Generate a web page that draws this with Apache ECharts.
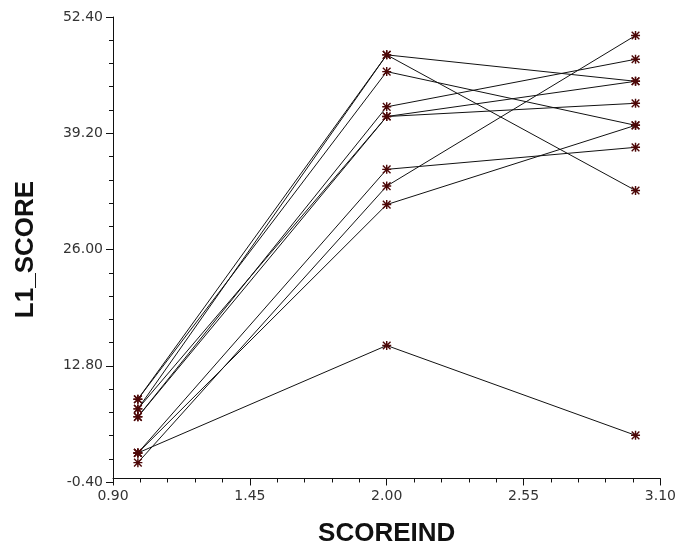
<!DOCTYPE html>
<html>
<head>
<meta charset="utf-8">
<style>
html,body{margin:0;padding:0;background:#fff;}
#chart{width:679px;height:552px;}
</style>
<script src="https://cdn.jsdelivr.net/npm/echarts@6/dist/echarts.min.js"></script>
</head>
<body>
<div id="chart"></div>
<script>
// SCOREIND levels
const scoreInd = [1, 2, 3];
// L1_SCORE per subject at SCOREIND = 1, 2, 3
const scoreAt1 = [9.0, 7.9, 9.0, 7.0, 7.9, 7.0, 2.9, 1.8, 2.9, 2.9];
const scoreAt2 = [48.1, 48.1, 46.2, 42.2, 41.1, 41.1, 35.1, 33.2, 31.1, 15.1];
const scoreAt3 = [45.1, 32.7, 40.1, 47.6, 45.1, 42.6, 37.6, 50.3, 40.1, 4.9];
// axis settings
const xMin = 0.9, xMax = 3.1, xStep = 0.55;
const yMin = -0.4, yMax = 52.4, yStep = 13.2;

const star = 'path://M4.2,0H5.8V10H4.2Z M0,4.2H10V5.8H0Z M1.3,0.2L9.8,8.7L8.7,9.8L0.2,1.3Z M8.7,0.2L9.8,1.3L1.3,9.8L0.2,8.7Z';

const series = scoreAt1.map((v, i) => ({
  type: 'line',
  data: [[scoreInd[0], scoreAt1[i]], [scoreInd[1], scoreAt2[i]], [scoreInd[2], scoreAt3[i]]],
  symbol: star,
  symbolSize: 9,
  showSymbol: true,
  lineStyle: { color: '#111', width: 1 },
  itemStyle: { color: '#4d0808' },
  emphasis: { disabled: true },
  silent: true,
  animation: false
}));

const tickFont = { fontFamily: 'DejaVu Sans', fontSize: 14, color: '#333' };
const titleFont = { fontFamily: 'Liberation Sans, Arial', fontSize: 26, fontWeight: 'bold', color: '#111' };

const chart = echarts.init(document.getElementById('chart'), null, { renderer: 'canvas' });
chart.setOption({
  animation: false,
  grid: { left: 113, right: 16, top: 17, bottom: 59, containLabel: false },
  xAxis: {
    type: 'value', min: xMin, max: xMax, interval: xStep,
    name: 'SCOREIND', nameLocation: 'middle', nameGap: 39,
    nameTextStyle: titleFont,
    axisLine: { show: true, lineStyle: { color: '#111', width: 1 } },
    axisTick: { show: true, inside: false, length: 7, lineStyle: { color: '#111' } },
    minorTick: { show: true, splitNumber: 5, length: 4, lineStyle: { color: '#111' } },
    splitLine: { show: false },
    axisLabel: Object.assign({ margin: 7, formatter: v => v.toFixed(2) }, tickFont)
  },
  yAxis: {
    type: 'value', min: yMin, max: yMax, interval: yStep,
    name: 'L1_SCORE', nameLocation: 'middle', nameGap: 74, nameRotate: 90,
    nameTextStyle: titleFont,
    axisLine: { show: true, lineStyle: { color: '#111', width: 1 } },
    axisTick: { show: true, inside: false, length: 7, lineStyle: { color: '#111' } },
    minorTick: { show: true, splitNumber: 5, length: 4, lineStyle: { color: '#111' } },
    splitLine: { show: false },
    axisLabel: Object.assign({ margin: 10, formatter: v => v.toFixed(2) }, tickFont)
  },
  series: series
});
</script>
</body>
</html>
